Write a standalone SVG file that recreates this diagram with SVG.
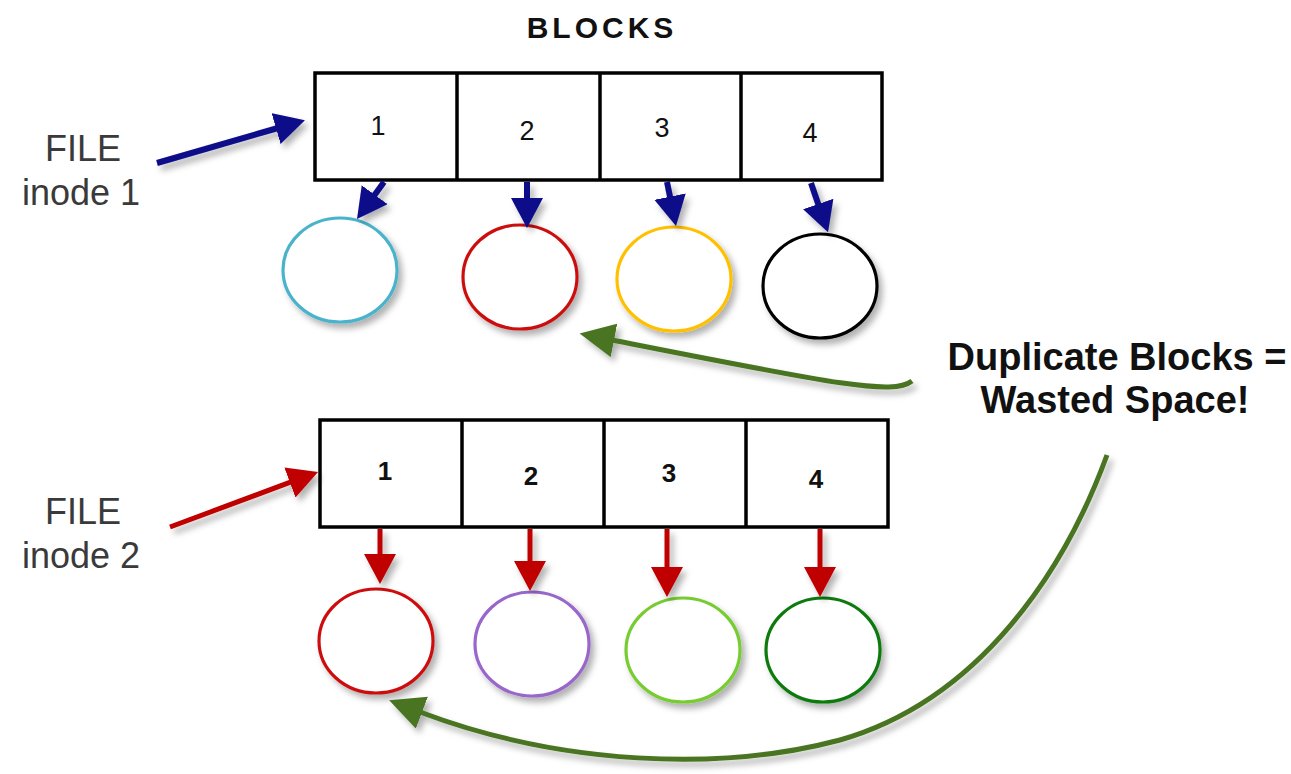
<svg xmlns="http://www.w3.org/2000/svg" width="1291" height="774" viewBox="0 0 1291 774">
<style>
.box{fill:#fff;stroke:#000;stroke-width:3.5}
.num{font-family:"Liberation Sans",Arial,sans-serif;font-size:27px;fill:#111;text-anchor:middle}
.numb{font-weight:bold;font-size:26px}
.file{font-family:"Liberation Sans",Arial,sans-serif;font-size:36px;fill:#3a3a3a;text-anchor:middle}
.lbl{font-family:"Liberation Sans",Arial,sans-serif;font-size:38px;font-weight:bold;fill:#111;text-anchor:middle}
.title{font-family:"Liberation Sans",Arial,sans-serif;font-size:30px;font-weight:bold;fill:#111;text-anchor:middle;letter-spacing:4px}
.blk{fill:#fff;stroke-width:3.2}
.blue{fill:none;stroke:#0b0b8a;stroke-width:6;marker-end:url(#hb)}
.red{fill:none;stroke:#c00000;stroke-width:5;marker-end:url(#hr)}
.grn{fill:none;stroke:#4a7520;stroke-width:5;marker-end:url(#hg)}
</style>
<defs>
<filter id="sh" filterUnits="userSpaceOnUse" x="0" y="0" width="1291" height="774">
<feDropShadow dx="4" dy="5" stdDeviation="3" flood-color="#000" flood-opacity="0.3"/>
</filter>
<marker id="hb" markerUnits="userSpaceOnUse" markerWidth="34" markerHeight="34" refX="2" refY="16" orient="auto">
<path d="M0,0 L30,16 L0,32 z" fill="#0b0b8a"/>
</marker>
<marker id="hr" markerUnits="userSpaceOnUse" markerWidth="34" markerHeight="34" refX="2" refY="16" orient="auto">
<path d="M0,0 L30,16 L0,32 z" fill="#c00000"/>
</marker>
<marker id="hg" markerUnits="userSpaceOnUse" markerWidth="40" markerHeight="36" refX="2" refY="17" orient="auto">
<path d="M0,0 L35,17 L0,34 z" fill="#4a7520"/>
</marker>
</defs>
<rect width="1291" height="774" fill="#fff"/>

<text class="title" x="602" y="38">BLOCKS</text>

<g id="file1">
<text class="file" x="83" y="161">FILE</text>
<text class="file" x="81" y="205">inode 1</text>
</g>
<g id="file2">
<text class="file" x="83" y="524">FILE</text>
<text class="file" x="81" y="568">inode 2</text>
</g>

<g id="row1">
<rect class="box" x="315" y="73" width="567" height="107"/>
<line x1="457" y1="73" x2="457" y2="180" stroke="#000" stroke-width="3.5"/>
<line x1="600" y1="73" x2="600" y2="180" stroke="#000" stroke-width="3.5"/>
<line x1="741" y1="73" x2="741" y2="180" stroke="#000" stroke-width="3.5"/>
<text class="num" x="378" y="135">1</text>
<text class="num" x="527" y="140">2</text>
<text class="num" x="662" y="137">3</text>
<text class="num" x="810" y="142">4</text>
</g>

<g id="row2">
<rect class="box" x="320" y="420" width="568" height="107"/>
<line x1="462" y1="420" x2="462" y2="527" stroke="#000" stroke-width="3.5"/>
<line x1="604" y1="420" x2="604" y2="527" stroke="#000" stroke-width="3.5"/>
<line x1="746" y1="420" x2="746" y2="527" stroke="#000" stroke-width="3.5"/>
<text class="num numb" x="385" y="480">1</text>
<text class="num numb" x="531" y="485">2</text>
<text class="num numb" x="669" y="482">3</text>
<text class="num numb" x="816" y="488">4</text>
</g>

<g id="blocks1" filter="url(#sh)">
<ellipse class="blk" cx="340" cy="270" rx="57" ry="52" stroke="#4ab3cc"/>
<ellipse class="blk" cx="520" cy="277" rx="57" ry="52" stroke="#cc1111"/>
<ellipse class="blk" cx="674" cy="279" rx="57" ry="52" stroke="#ffc000"/>
<ellipse class="blk" cx="820" cy="286" rx="57" ry="52" stroke="#000"/>
</g>
<g id="blocks2" filter="url(#sh)">
<ellipse class="blk" cx="376" cy="641" rx="57" ry="52" stroke="#cc1111"/>
<ellipse class="blk" cx="532" cy="644" rx="57" ry="52" stroke="#9966cc"/>
<ellipse class="blk" cx="683" cy="650" rx="57" ry="52" stroke="#77cc33"/>
<ellipse class="blk" cx="823" cy="650" rx="57" ry="52" stroke="#0a7a0a"/>
</g>

<g id="label">
<text class="lbl" x="1117" y="370">Duplicate Blocks =</text>
<text class="lbl" x="1115" y="413">Wasted Space!</text>
</g>

<g id="connectors" filter="url(#sh)">
<line class="blue" x1="157" y1="163" x2="278" y2="128"/>
<line class="blue" x1="384" y1="182" x2="373.5" y2="196.4"/>
<line class="blue" x1="527" y1="182" x2="527" y2="200"/>
<line class="blue" x1="667" y1="182" x2="670.4" y2="198.6"/>
<line class="blue" x1="811" y1="183" x2="818.9" y2="205.9"/>
<line class="red" x1="170" y1="527" x2="291.8" y2="481.7"/>
<line class="red" x1="380" y1="529" x2="380" y2="556"/>
<line class="red" x1="530" y1="529" x2="530" y2="563"/>
<line class="red" x1="667" y1="529" x2="667" y2="569"/>
<line class="red" x1="820" y1="529" x2="820" y2="569"/>
<path class="grn" d="M912,381 C893,396 830,383 612,340"/>
<path class="grn" d="M1107,455 C1065,570 980,700 840,740 C720,772 560,765 420,712"/>
</g>
</svg>
